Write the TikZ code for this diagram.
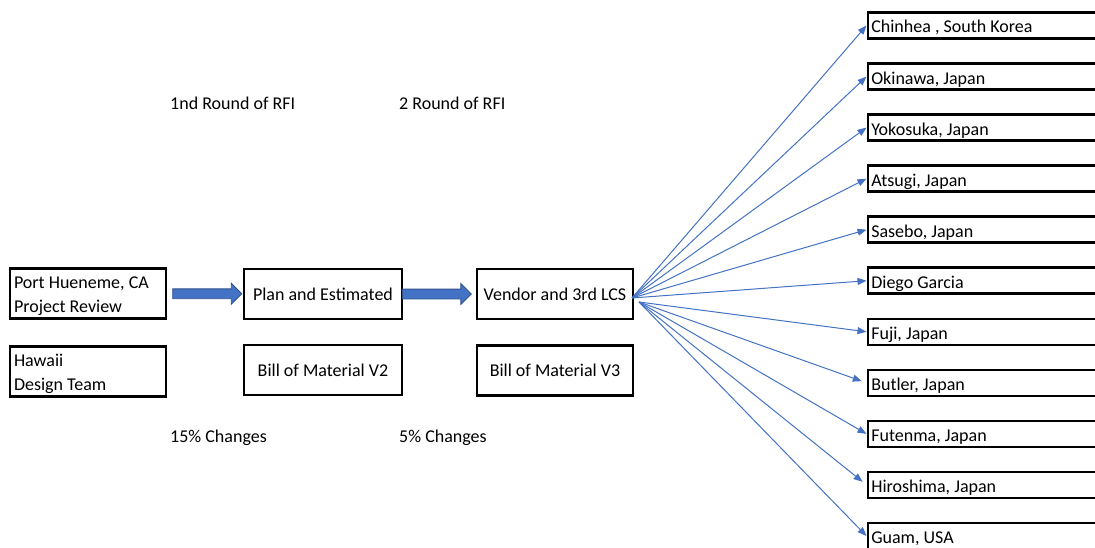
\documentclass[tikz,border=0pt]{standalone}
\usepackage{fontspec}
\setmainfont{Carlito}
\usetikzlibrary{arrows.meta,shapes.arrows}

\definecolor{officeblue}{HTML}{4472C4}
\definecolor{officeline}{HTML}{2F528F}

\tikzset{
  plainspaces/.style={execute at begin node={\spaceskip=0pt\xspaceskip=0pt\relax}},
  stagebox/.style={draw=black, line width=2.6pt, minimum width=156pt, minimum height=50pt, inner sep=0pt},
  leftbox/.style={stagebox, text width=148pt, align=left, plainspaces,
                  text height=14pt, text depth=25pt},
  sitebox/.style={draw=black, line width=2.6pt, anchor=west, minimum height=26pt,
                  text width=233pt, inner xsep=3.5pt, inner ysep=0pt, align=left, plainspaces,
                  text height=15pt, text depth=0pt},
  note/.style={anchor=west, inner sep=0pt, text height=13pt, text depth=4pt},
  blockarrow/.style={single arrow, draw=officeline, fill=officeblue, line width=0.8pt,
                     minimum height=69pt, minimum width=20pt, single arrow head extend=5.5pt,
                     inner xsep=0pt, inner ysep=4.5pt, text height=0pt, text depth=0pt},
  fan/.style={draw=officeblue, line width=1pt, -{Triangle[length=9pt,width=7pt]}}
}

\begin{document}
\begin{tikzpicture}[x=1pt, y=-1pt, font=\fontsize{18}{24}\selectfont]
\useasboundingbox (0,0) rectangle (1095,548);

% first column: review and design team
\node[leftbox] (port) at (88,293.5) {Port Hueneme, CA\\Project Review};
\node[leftbox] (hawaii) at (88,371.5) {Hawaii\\Design Team};

% second column
\node[stagebox, minimum width=158pt] (plan) at (323,294) {Plan and Estimated};
\node[stagebox, minimum width=158pt] (bom2) at (323,370) {Bill of Material V2};

% third column
\node[stagebox] (vendor) at (555,294) {Vendor and 3rd LCS};
\node[stagebox] (bom3) at (555,370.5) {Bill of Material V3};

% round and change notes
\node[note] (rfi1) at (170,105) {1nd Round of RFI};
\node[note] (rfi2) at (399,105) {2 Round of RFI};
\node[note] (chg1) at (170,438) {15\% Changes};
\node[note] (chg2) at (399,438) {5\% Changes};

% block arrows between the stages
\path (port.east) -- node[blockarrow, pos=0.53, xshift=-2.5pt] (arrowA) {} (plan.west);
\path (plan.east) -- node[blockarrow, pos=0.47, xshift=-3pt] (arrowB) {} (vendor.west);

% destination sites
\foreach \name/\label [count=\i from 0] in {
  chinhea/{Chinhea , South Korea},
  okinawa/{Okinawa, Japan},
  yokosuka/{Yokosuka, Japan},
  atsugi/{Atsugi, Japan},
  sasebo/{Sasebo, Japan},
  diego/{Diego Garcia},
  fuji/{Fuji, Japan},
  butler/{Butler, Japan},
  futenma/{Futenma, Japan},
  hiroshima/{Hiroshima, Japan},
  guam/{Guam, USA}}
  \node[sitebox] (\name) at (866.5,{25.5+51.05*\i}) {\label};

% fan of connectors out of the vendor box
\coordinate (fanup) at (632,298);
\coordinate (fandown) at (639,302);
\foreach \name in {chinhea,okinawa,yokosuka,atsugi,sasebo,diego}
  \draw[fan] (fanup) -- (\name.west);
\foreach \name in {fuji,futenma,guam}
  \draw[fan] (fandown) -- (\name.west);
\foreach \name in {butler,hiroshima}
  \draw[fan, shorten >=5pt] (fandown) -- (\name.west);
\end{tikzpicture}
\end{document}
